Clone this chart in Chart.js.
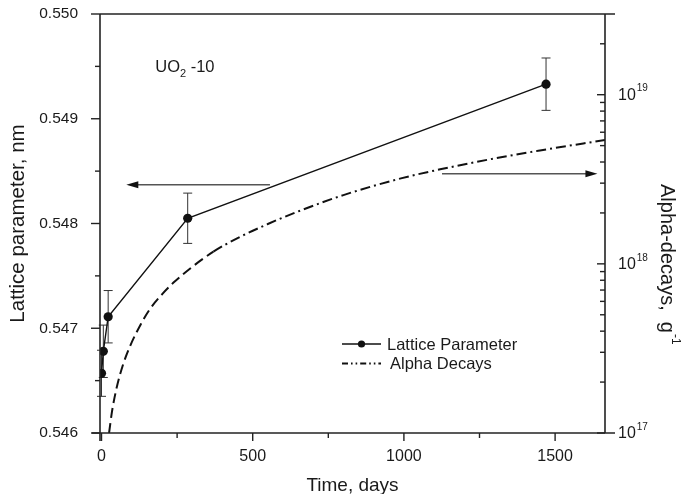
<!DOCTYPE html>
<html>
<head>
<meta charset="utf-8">
<title>UO2-10 lattice parameter and alpha decays</title>
<script src="https://cdn.jsdelivr.net/npm/chart.js@4.4.1/dist/chart.umd.min.js"></script>
<style>
    html, body { margin: 0; padding: 0; background: #fff; }
    canvas { display: block; }
</style>
</head>
<body>
<canvas id="chart" width="681" height="494"></canvas>
<script>
// values
const latticeDays = [0, 6, 22, 285, 1470];
const latticeValues = [0.54657, 0.54678, 0.54711, 0.54805, 0.54933];
const latticeErrors = [0.00022, 0.00025, 0.00025, 0.00024, 0.00025];

const alphaDays = [25, 35, 50, 70, 94, 130, 160, 200, 240, 300, 370, 450, 550, 650, 800, 990, 1120, 1300, 1450, 1665];
const alphaValues = [1.0e17, 1.35e17, 1.85e17, 2.5e17, 3.25e17, 4.4e17, 5.4e17, 6.6e17, 7.8e17, 9.6e17,
    1.18e18, 1.42e18, 1.72e18, 2.04e18, 2.55e18, 3.2e18, 3.62e18, 4.2e18, 4.68e18, 5.4e18];

// axes
const xTicks = [0, 500, 1000, 1500];
const xMinorTicks = [250, 750, 1250];
const yTicks = [0.546, 0.547, 0.548, 0.549, 0.550];
const yMinorTicks = [0.5465, 0.5475, 0.5485, 0.5495];
const y1Ticks = [1e17, 1e18, 1e19];
const y1MinorTicks = [2e17, 3e17, 4e17, 5e17, 6e17, 7e17, 8e17, 9e17,
    2e18, 3e18, 4e18, 5e18, 6e18, 7e18, 8e18, 9e18, 2e19];

const FONT = "'Liberation Sans', Arial, Helvetica, sans-serif";
const INK = "#1a1a1a";

// ===============================
// frame, ticks, error bars, notes
// ===============================

function line(ctx, x1, y1, x2, y2) {
    ctx.beginPath();
    ctx.moveTo(x1, y1);
    ctx.lineTo(x2, y2);
    ctx.stroke();
}

function arrow(ctx, x1, y, x2) {
    const dir = x2 > x1 ? 1 : -1;
    ctx.strokeStyle = "#555";
    ctx.lineWidth = 1.3;
    line(ctx, x1, y, x2 - dir * 8, y);
    ctx.fillStyle = "#111";
    ctx.beginPath();
    ctx.moveTo(x2, y);
    ctx.lineTo(x2 - dir * 12, y - 3.5);
    ctx.lineTo(x2 - dir * 12, y + 3.5);
    ctx.closePath();
    ctx.fill();
}

// no extra room for the end labels, the plot box is fixed
function fixedBox(size) {
    return function (scale) {
        if (scale.isHorizontal()) {
            scale.height = size;
        } else {
            scale.width = size;
        }
        scale.paddingTop = 0;
        scale.paddingBottom = 0;
        scale.paddingLeft = 0;
        scale.paddingRight = 0;
    };
}

const framePlugin = {
    id: "framePlugin",

    beforeDatasetsDraw(chart) {
        const ctx = chart.ctx;
        const x = chart.scales.x;
        const y = chart.scales.y;

        ctx.save();
        ctx.strokeStyle = "#333";
        ctx.lineWidth = 1;
        latticeDays.forEach(function (d, i) {
            const px = x.getPixelForValue(d);
            const top = y.getPixelForValue(latticeValues[i] + latticeErrors[i]);
            const bottom = y.getPixelForValue(latticeValues[i] - latticeErrors[i]);
            line(ctx, px, top, px, bottom);
            line(ctx, px - 4.5, top, px + 4.5, top);
            line(ctx, px - 4.5, bottom, px + 4.5, bottom);
        });
        ctx.restore();
    },

    afterDatasetsDraw(chart) {
        const ctx = chart.ctx;
        const area = chart.chartArea;
        const x = chart.scales.x;
        const y = chart.scales.y;
        const y1 = chart.scales.y1;

        ctx.save();

        // box
        ctx.strokeStyle = "#222";
        ctx.lineWidth = 1.6;
        ctx.setLineDash([]);
        line(ctx, area.left, area.top, area.right + 10, area.top);
        line(ctx, area.left - 8, area.bottom, area.right + 10, area.bottom);
        line(ctx, area.left, area.top, area.left, area.bottom + 8);
        line(ctx, area.right, area.top, area.right, area.bottom);

        // tick marks
        ctx.lineWidth = 1.4;
        xTicks.forEach(function (v) {
            const px = x.getPixelForValue(v);
            line(ctx, px, area.bottom, px, area.bottom + 8);
        });
        xMinorTicks.forEach(function (v) {
            const px = x.getPixelForValue(v);
            line(ctx, px, area.bottom, px, area.bottom + 5);
        });
        yTicks.forEach(function (v) {
            const py = y.getPixelForValue(v);
            line(ctx, area.left, py, area.left - 9, py);
        });
        yMinorTicks.forEach(function (v) {
            const py = y.getPixelForValue(v);
            line(ctx, area.left, py, area.left - 5, py);
        });
        y1Ticks.forEach(function (v) {
            const py = y1.getPixelForValue(v);
            line(ctx, area.right, py, area.right - 8, py);
        });
        y1MinorTicks.forEach(function (v) {
            const py = y1.getPixelForValue(v);
            line(ctx, area.right, py, area.right - 5, py);
        });

        // right axis labels 10^n
        ctx.fillStyle = INK;
        ctx.textBaseline = "middle";
        ctx.textAlign = "left";
        y1Ticks.forEach(function (v) {
            const py = y1.getPixelForValue(v);
            ctx.font = "16px " + FONT;
            ctx.fillText("10", area.right + 13, py + 1);
            const w = ctx.measureText("10").width;
            ctx.font = "10px " + FONT;
            ctx.fillText(String(Math.round(Math.log10(v))), area.right + 14 + w, py - 6);
        });

        // right axis title, read top to bottom
        ctx.save();
        ctx.translate(667, 184);
        ctx.rotate(Math.PI / 2);
        ctx.font = "20px " + FONT;
        ctx.fillText("Alpha-decays,  g", 0, 0);
        const tw = ctx.measureText("Alpha-decays,  g").width;
        ctx.font = "12px " + FONT;
        ctx.fillText("-1", tw + 1, -8);
        ctx.restore();

        // arrows pointing to the axes
        const ly = y.getPixelForValue(0.54837);
        arrow(ctx, x.getPixelForValue(557), ly, x.getPixelForValue(82));
        const ry = y1.getPixelForValue(3.41e18);
        arrow(ctx, x.getPixelForValue(1126), ry, x.getPixelForValue(1640));

        // sample label
        ctx.fillStyle = INK;
        ctx.textBaseline = "alphabetic";
        ctx.font = "16.5px " + FONT;
        const sx = x.getPixelForValue(178);
        const sy = y.getPixelForValue(0.54945);
        ctx.fillText("UO", sx, sy);
        const uw = ctx.measureText("UO").width;
        ctx.font = "11px " + FONT;
        ctx.fillText("2", sx + uw, sy + 5);
        ctx.font = "16.5px " + FONT;
        ctx.fillText(" -10", sx + uw + 6, sy);

        // legend
        const lx = area.left + 242;
        const l1 = area.top + 330;
        const l2 = area.top + 349.5;
        ctx.strokeStyle = "#111";
        ctx.lineWidth = 1.4;
        line(ctx, lx, l1, lx + 39, l1);
        ctx.fillStyle = "#111";
        ctx.beginPath();
        ctx.arc(lx + 19.5, l1, 3.6, 0, Math.PI * 2);
        ctx.fill();
        ctx.lineWidth = 2;
        ctx.setLineDash([6, 3, 1.6, 3, 1.6, 3]);
        line(ctx, lx, l2, lx + 39, l2);
        ctx.setLineDash([]);
        ctx.fillStyle = INK;
        ctx.textBaseline = "middle";
        ctx.font = "16.5px " + FONT;
        ctx.fillText("Lattice Parameter", lx + 45, l1 + 1);
        ctx.fillText("Alpha Decays", lx + 48, l2 + 1);

        ctx.restore();
    }
};

// ===============================
// CHART
// ===============================

const latticePoints = latticeDays.map(function (d, i) {
    return { x: d, y: latticeValues[i] };
});
const alphaPoints = alphaDays.map(function (d, i) {
    return { x: d, y: alphaValues[i] };
});

new Chart(document.getElementById("chart"), {
    type: "scatter",
    data: {
        datasets: [
            {
                label: "Lattice Parameter",
                data: latticePoints,
                yAxisID: "y",
                showLine: true,
                borderColor: "#111",
                borderWidth: 1.4,
                pointRadius: 4.6,
                pointBackgroundColor: "#111",
                pointBorderWidth: 0,
                order: 1
            },
            {
                label: "Alpha Decays",
                data: alphaPoints,
                yAxisID: "y1",
                showLine: true,
                borderColor: "#111",
                borderWidth: 2,
                pointRadius: 0,
                cubicInterpolationMode: "monotone",
                segment: {
                    borderDash: function (c) {
                        return c.p0.parsed.x < 370 ? [10, 5] : [10, 4, 2, 4];
                    }
                },
                order: 2
            }
        ]
    },
    options: {
        responsive: false,
        animation: false,
        events: [],
        layout: {
            padding: { top: 14, left: 0, right: 0, bottom: 0 }
        },
        plugins: {
            legend: { display: false },
            tooltip: { enabled: false }
        },
        scales: {
            x: {
                type: "linear",
                position: "bottom",
                min: -5,
                max: 1665,
                afterBuildTicks: function (scale) {
                    scale.ticks = xTicks.map(function (v) { return { value: v }; });
                },
                afterFit: fixedBox(61),
                grid: { display: false, drawTicks: false },
                border: { display: false },
                ticks: {
                    padding: 14,
                    maxRotation: 0,
                    color: INK,
                    font: { family: FONT, size: 16 },
                    callback: function (value) { return String(value); }
                },
                title: {
                    display: true,
                    text: "Time, days",
                    color: INK,
                    font: { family: FONT, size: 19 },
                    padding: { top: 0, bottom: -3 }
                }
            },
            y: {
                type: "linear",
                position: "left",
                min: 0.546,
                max: 0.550,
                afterBuildTicks: function (scale) {
                    scale.ticks = yTicks.map(function (v) { return { value: v }; });
                },
                afterFit: fixedBox(100),
                grid: { display: false, drawTicks: false },
                border: { display: false },
                ticks: {
                    padding: 22,
                    color: INK,
                    font: { family: FONT, size: 15.5 },
                    callback: function (value) { return value.toFixed(3); }
                },
                title: {
                    display: true,
                    text: "Lattice parameter, nm",
                    color: INK,
                    font: { family: FONT, size: 20.5 },
                    padding: { top: 6.5, bottom: 0 }
                }
            },
            y1: {
                type: "logarithmic",
                position: "right",
                min: 1e17,
                max: 3e19,
                afterFit: fixedBox(76),
                grid: { display: false, drawTicks: false },
                border: { display: false },
                ticks: { display: false }
            }
        }
    },
    plugins: [framePlugin]
});
</script>
</body>
</html>
